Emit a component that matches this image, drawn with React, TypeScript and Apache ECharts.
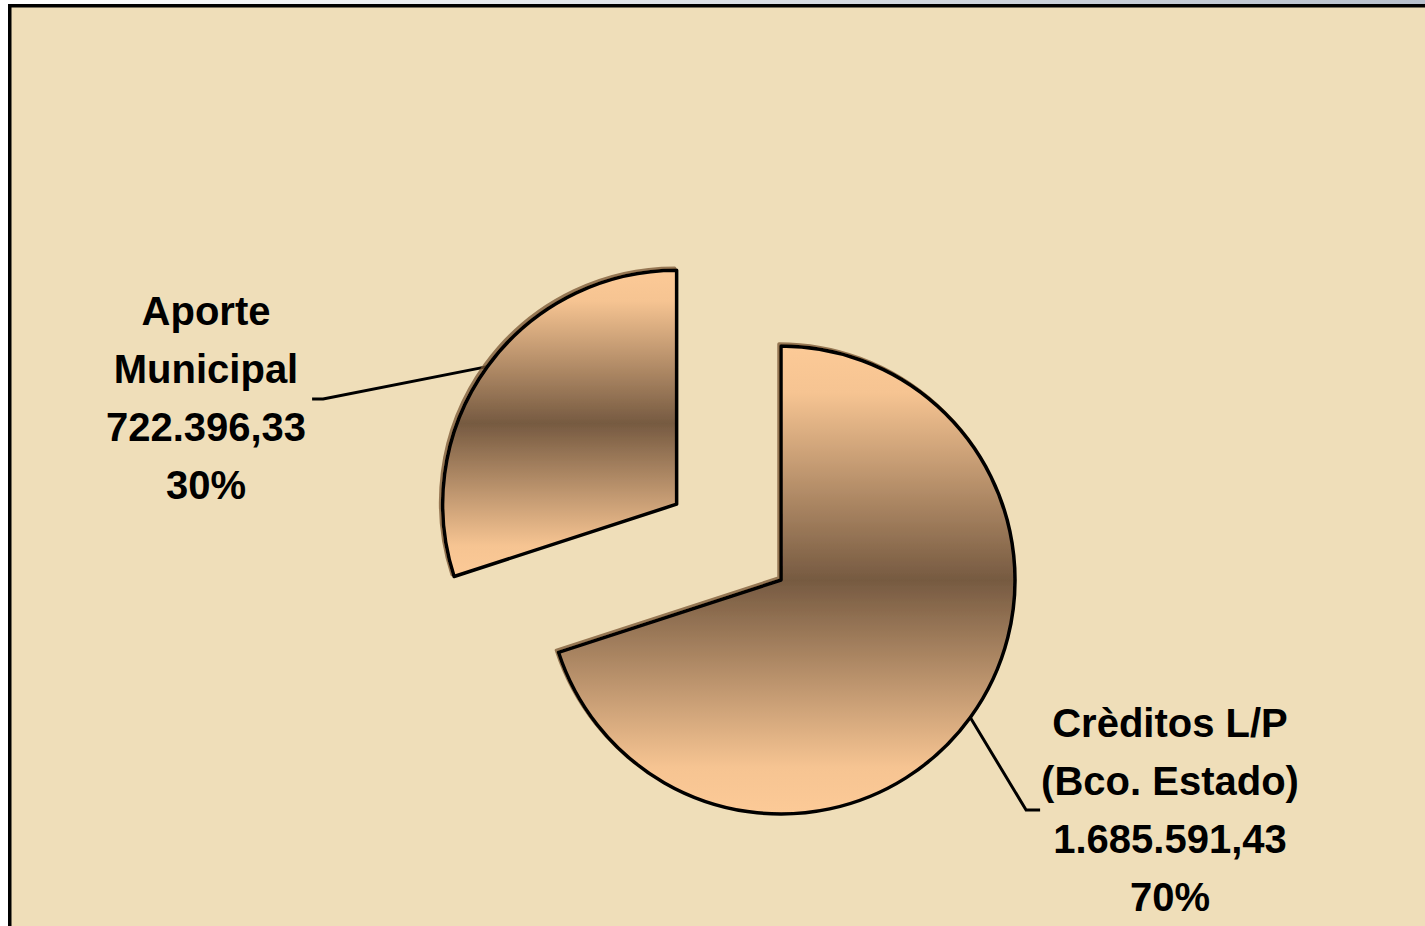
import React, { useEffect, useRef } from 'react';
import * as echarts from 'echarts';

// ---- data ----
const categories = ['Crèditos L/P\n(Bco. Estado)', 'Aporte\nMunicipal'];
const values = [1685591.43, 722396.33];

// ---- layout ----
const W = 1425;
const H = 926;
const PIE_CENTER = [781, 580];
const PIE_RADIUS = 234;
const EXPLODE = 129;
const START_ANGLE = 90;
const LABEL_POS = [
  [1170, 810],
  [206, 398],
];

function formatEs(v: number): string {
  const [i, d] = v.toFixed(2).split('.');
  const withDots = i.replace(/\B(?=(\d{3})+(?!\d))/g, '.');
  return withDots + ',' + d;
}

const total = values.reduce((a, b) => a + b, 0);
// mid angle (math degrees) of the exploded slice (index 1)
const slice1Start = START_ANGLE - (values[0] / total) * 360;
const slice1Mid = slice1Start - ((values[1] / total) * 360) / 2;
const midRad = (slice1Mid * Math.PI) / 180;
const explodedCenter = [
  PIE_CENTER[0] + Math.cos(midRad) * EXPLODE,
  PIE_CENTER[1] - Math.sin(midRad) * EXPLODE,
];

const gradient = () =>
  new echarts.graphic.LinearGradient(0, 0, 0, 1, [
    { offset: 0, color: '#FCCA97' },
    { offset: 0.1, color: '#F6C492' },
    { offset: 0.5, color: '#765A41' },
    { offset: 0.9, color: '#F6C492' },
    { offset: 1, color: '#FCCA97' },
  ]);

const labelStyle = {
  show: true,
  position: 'outside',
  fontFamily: 'Liberation Sans, Arial, sans-serif',
  fontWeight: 'bold',
  fontSize: 40,
  lineHeight: 58,
  color: '#000',
  align: 'center',
  formatter: (p: any) => `${p.name}\n${formatEs(p.value)}\n${Math.round(p.percent)}%`,
};

function makeSeries(visibleIndex: number, center: number[]) {
  return {
    type: 'pie',
    center,
    radius: PIE_RADIUS,
    startAngle: START_ANGLE,
    clockwise: true,
    avoidLabelOverlap: false,
    silent: true,
    emphasis: { disabled: true },
    labelLine: { show: true, lineStyle: { color: '#000', width: 3 } },
    labelLayout: (params: any) => {
      if (params.dataIndex !== visibleIndex) return {};
      const [lx, ly] = LABEL_POS[visibleIndex];
      const w = params.labelRect.width;
      const p0 = params.labelLinePoints ? params.labelLinePoints[0] : [lx, ly];
      let pts;
      if (lx > p0[0]) {
        const left = lx - w / 2;
        pts = [p0, [left - 15, ly], [left - 1, ly]];
      } else {
        const right = lx + w / 2;
        pts = [p0, [right + 17, ly + 1], [right + 6, ly + 1]];
      }
      return { x: lx, y: ly, align: 'center', verticalAlign: 'middle', labelLinePoints: pts };
    },
    data: categories.map((name, i) => {
      const visible = i === visibleIndex;
      return {
        name,
        value: values[i],
        itemStyle: visible
          ? {
              color: gradient(),
              borderColor: '#000',
              borderWidth: 3.5,
              shadowColor: 'rgba(120,85,50,0.75)',
              shadowOffsetX: -2,
              shadowOffsetY: -2,
              shadowBlur: 0,
            }
          : { color: 'rgba(0,0,0,0)', borderWidth: 0 },
        label: visible ? labelStyle : { show: false },
        labelLine: visible ? { show: true } : { show: false },
      };
    }),
  };
}

export default function App() {
  const ref = useRef<HTMLDivElement>(null);
  useEffect(() => {
    if (!ref.current) return;
    const chart = echarts.init(ref.current, null, { renderer: 'svg', width: W, height: H });
    chart.setOption({
      animation: false,
      backgroundColor: '#ffffff',
      graphic: [
        {
          type: 'rect',
          shape: { x: 0, y: 0, width: W, height: 5 },
          style: {
            fill: new echarts.graphic.LinearGradient(0, 0, 1, 0, [
              { offset: 0, color: '#FFFFFF' },
              { offset: 1, color: '#B8C0CC' },
            ]),
          },
          silent: true,
        },
        {
          type: 'rect',
          shape: { x: 9.75, y: 5.75, width: W + 100, height: H + 100 },
          style: { fill: '#EFDEB9', stroke: '#000', lineWidth: 3.5 },
          silent: true,
        },
      ],
      series: [makeSeries(0, PIE_CENTER), makeSeries(1, explodedCenter)],
    });
    return () => chart.dispose();
  }, []);
  return (
    <div
      ref={ref}
      style={{ position: 'fixed', left: 0, top: 0, width: W, height: H }}
    />
  );
}
